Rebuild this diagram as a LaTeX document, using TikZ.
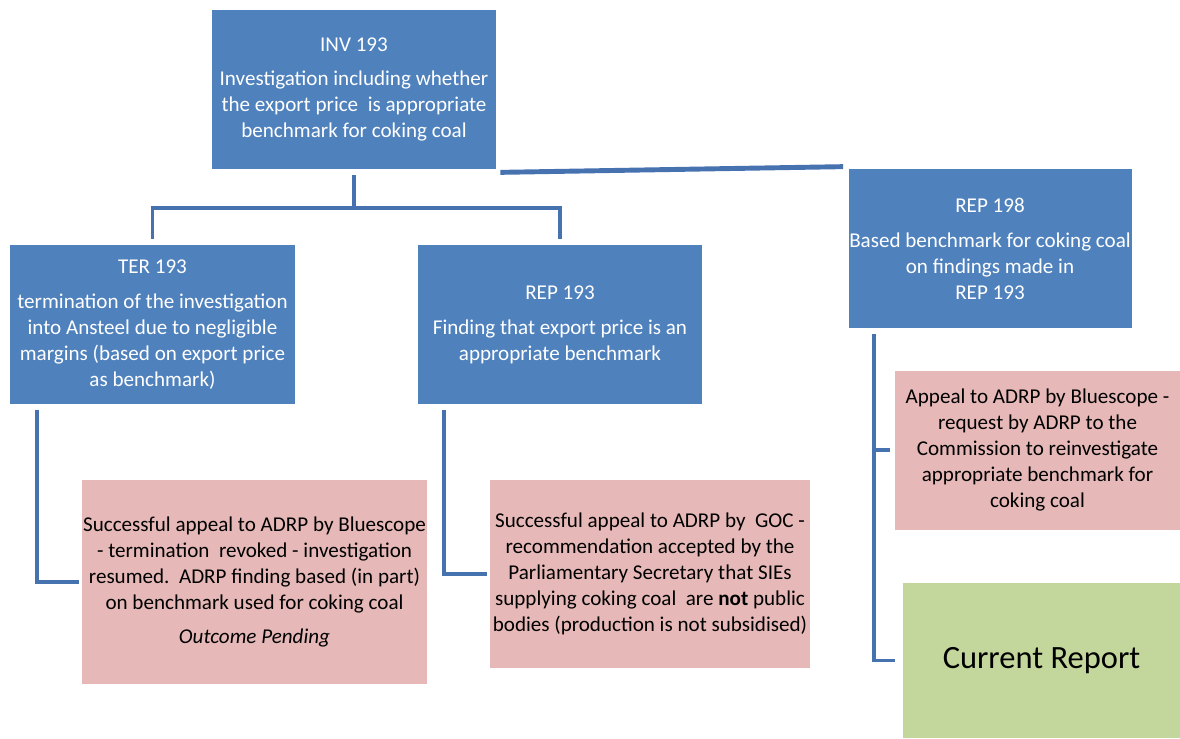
\documentclass[tikz,border=0pt]{standalone}
\usepackage{fontspec}
\setmainfont{Carlito}
\usetikzlibrary{calc}
\definecolor{boxblue}{HTML}{4F81BD}
\definecolor{linkblue}{HTML}{4672B0}
\definecolor{boxpink}{HTML}{E6B9B8}
\definecolor{boxgreen}{HTML}{C3D69B}
\tikzset{
  size/.style 2 args={minimum width=#1*0.02cm, minimum height=#2*0.02cm},
  bluebox/.style={fill=boxblue, text=white, inner sep=0pt, align=center, font=\fontsize{12}{14.8}\selectfont},
  pinkbox/.style={fill=boxpink, text=black, inner sep=0pt, align=center, font=\fontsize{12}{14.8}\selectfont},
  greenbox/.style={fill=boxgreen, text=black, inner sep=0pt, align=center, font=\fontsize{18.5}{22}\selectfont},
  link/.style={draw=linkblue, line width=2.2pt},
}
\begin{document}
\begin{tikzpicture}[x=0.02cm, y=-0.02cm]
			%%%%% START %%%%%
			\useasboundingbox (0, 0) rectangle (1180, 738);
			
			% top level
			\node[bluebox, size={284}{159}] (inv) at (354, 89.5) {INV 193\\[5pt] Investigation including whether\\ the export price\ \ is appropriate\\ benchmark for coking coal};
			
			% second level
			\node[bluebox, size={285}{159}] (ter) at (152.5, 324.5) {TER 193\\[5pt] termination of the investigation\\ into Ansteel due to negligible\\ margins (based on export price\\ as benchmark)};
			\node[bluebox, size={284}{159}] (rep) at (560, 324.5) {REP 193\\[5pt] Finding that export price is an\\ appropriate benchmark};
			\node[bluebox, size={283}{159}] (rnew) at (990, 248.5) {REP 198\\[5pt] Based benchmark for coking coal\\ on findings made in\\ REP 193};
			
			% appeals
			\node[pinkbox, size={345}{204}] (appter) at (254.5, 582) {Successful appeal to ADRP by Bluescope\\ - termination\ \ revoked - investigation\\ resumed.\ \ ADRP finding based (in part)\\ on benchmark used for coking coal\\[5pt] \textit{Outcome Pending}};
			\node[pinkbox, size={320}{188}] (apprep) at (650, 574) {Successful appeal to ADRP by\ \ GOC -\\ recommendation accepted by the\\ Parliamentary Secretary that SIEs\\ supplying coking coal\ \ are \textbf{not} public\\ bodies (production is not subsidised)};
			\node[pinkbox, size={285}{159}] (appnew) at (1037.5, 450) {Appeal to ADRP by Bluescope -\\ request by ADRP to the\\ Commission to reinvestigate\\ appropriate benchmark for\\ coking coal};
			\node[greenbox, size={277}{155}] (current) at (1041.5, 660.5) {Current Report};
			
			% tree lines
			\coordinate (fork) at (354, 208);
			\draw[link, shorten <=6*0.02cm] (inv.south) -- (fork);
			\draw[link, shorten >=6*0.02cm] (fork) -| (ter.north);
			\draw[link, shorten >=6*0.02cm] (fork) -| (rep.north);
			\draw[line width=2.8pt, draw=linkblue] ($(inv.south east)+(4, 3)$) -- ($(rnew.north west)+(-5, -2)$);
			
			% appeal lines
			\draw[link, shorten >=3*0.02cm] ($(ter.south west)+(27, 6)$) |- (appter.west);
			\draw[link, shorten >=3*0.02cm] ($(rep.south west)+(26, 6)$) |- (apprep.west);
			\coordinate (spine) at ($(rnew.south west)+(26, 6)$);
			\draw[link, shorten >=8*0.02cm] (spine) |- (current.west);
			\draw[link, shorten >=5*0.02cm] (spine |- appnew.west) -- (appnew.west);
			
			%%%%% END %%%%%
\end{tikzpicture}
\end{document}
